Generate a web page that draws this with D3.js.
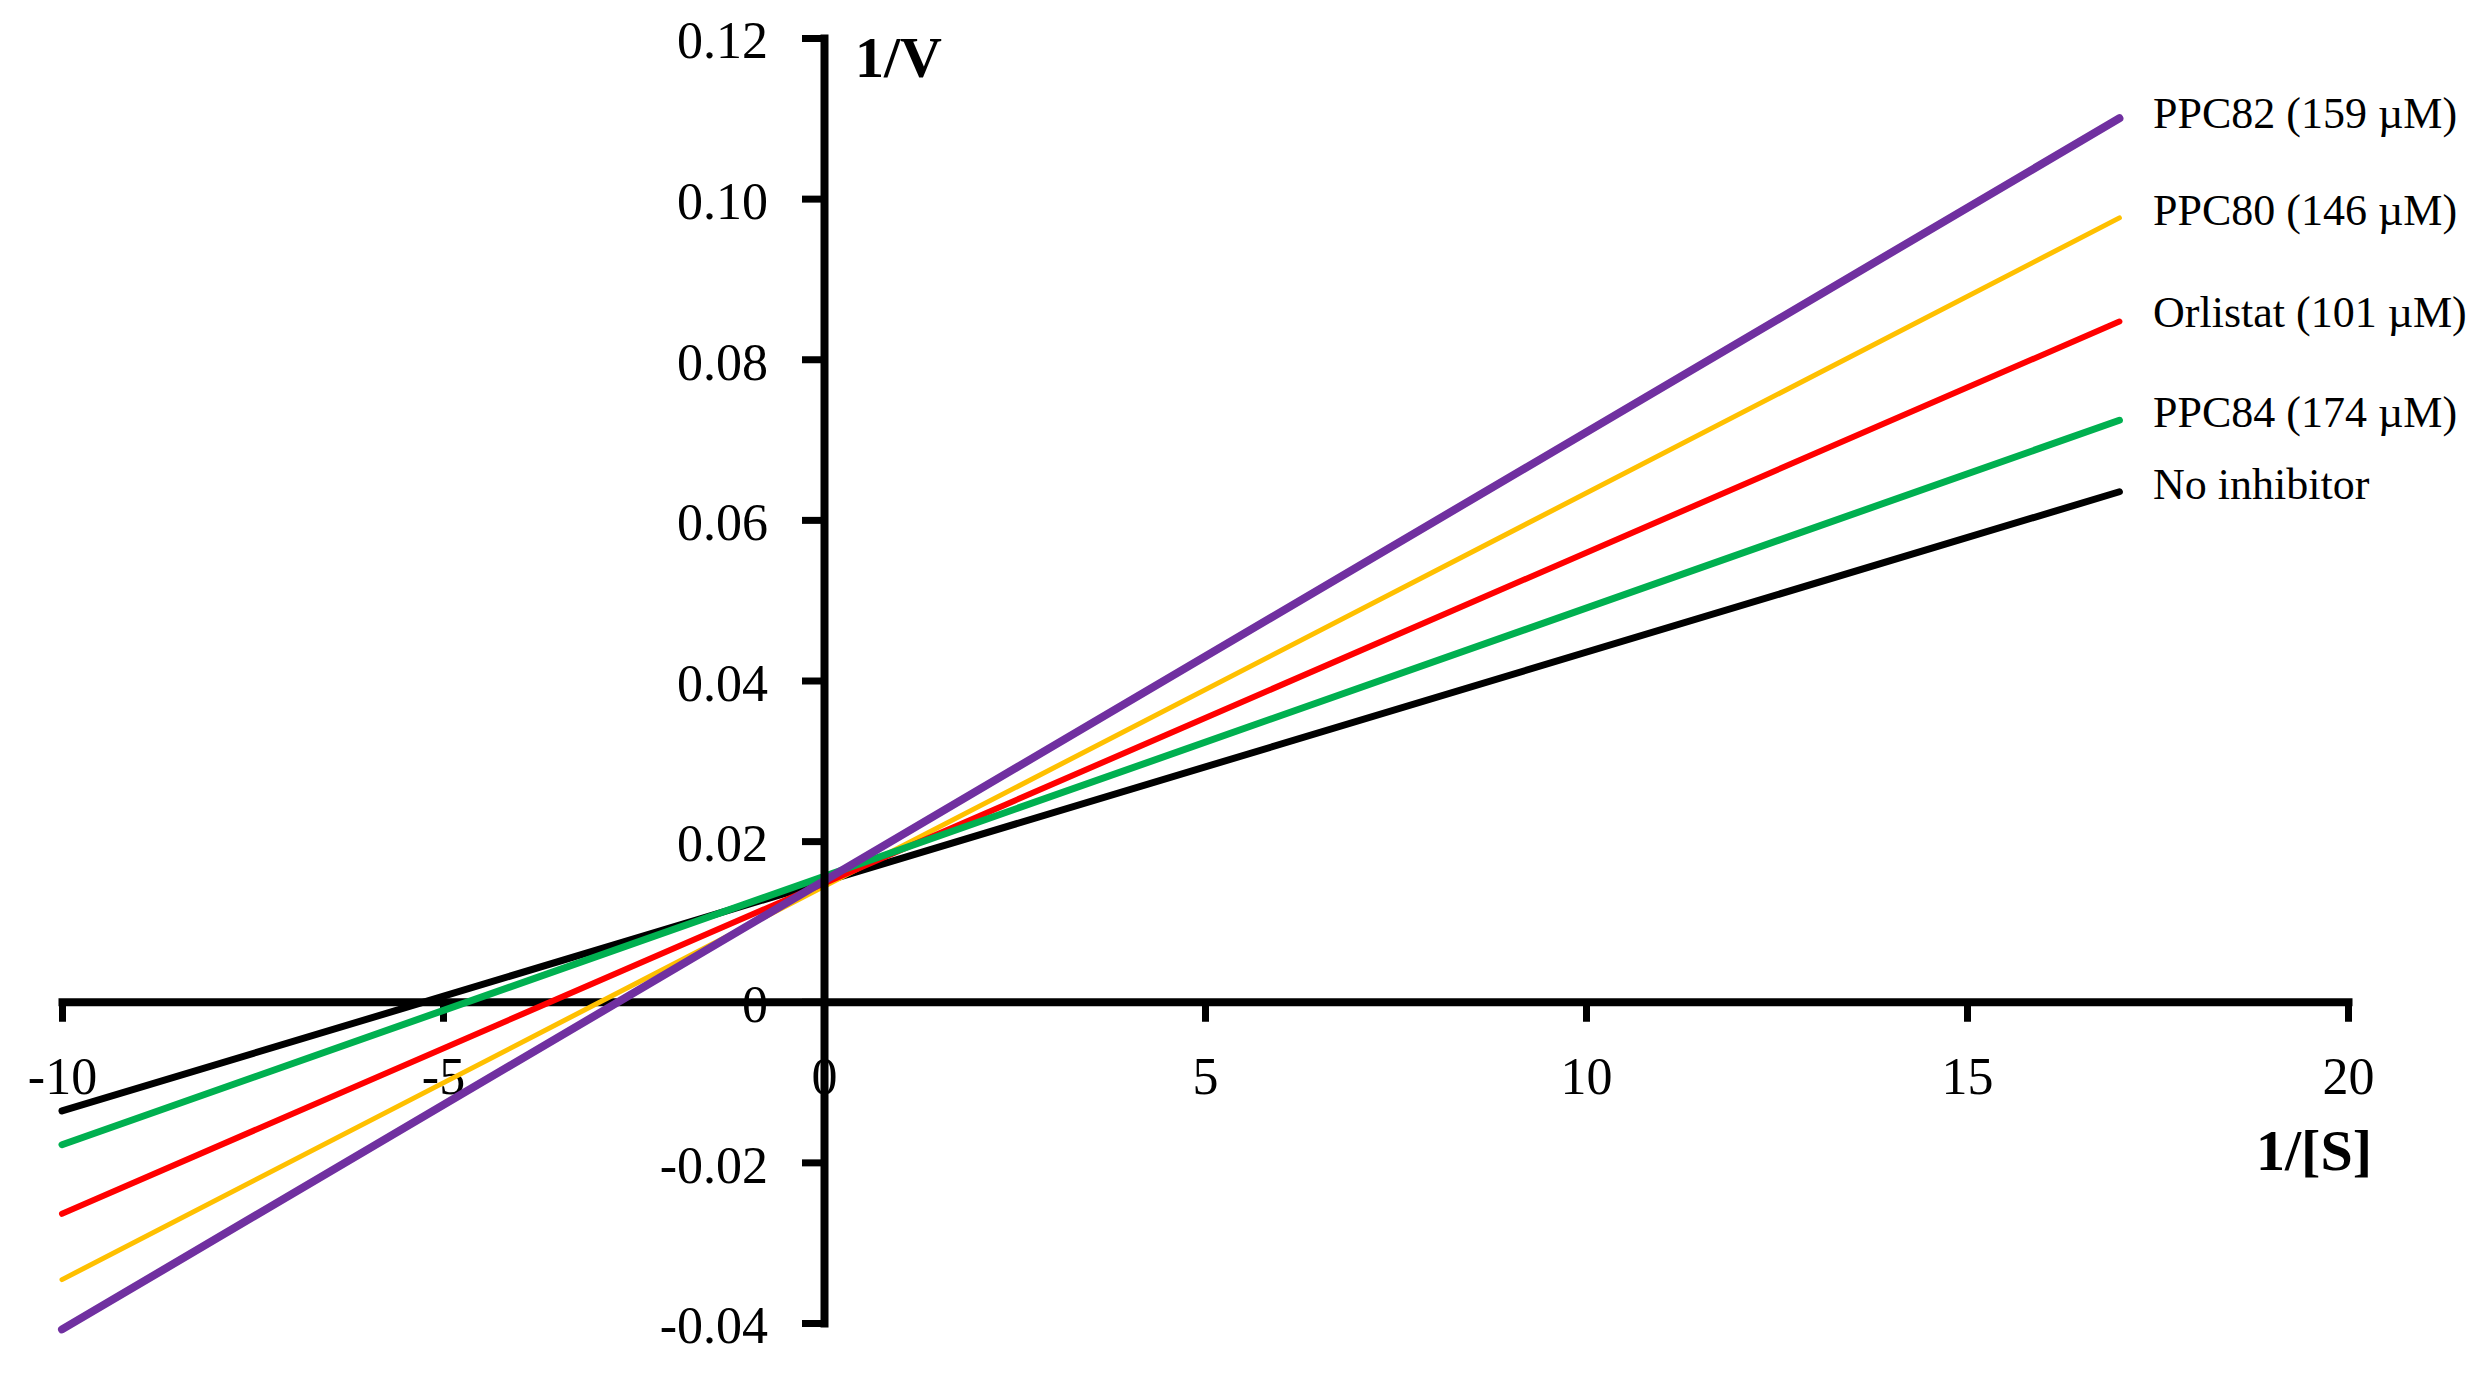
<!DOCTYPE html>
<html>
<head>
<meta charset="utf-8">
<script src="https://cdn.jsdelivr.net/npm/d3@7"></script>
<style>
  html, body { margin: 0; padding: 0; background: #ffffff; }
  svg { display: block; }
</style>
</head>
<body>
<svg id="chart" width="2491" height="1390"></svg>
<script>
// ---- data ----
const xPoints = [-10, 17];
const seriesNames = ["No inhibitor", "PPC80 (146 \u00b5M)", "Orlistat (101 \u00b5M)", "PPC84 (174 \u00b5M)", "PPC82 (159 \u00b5M)"];
const noInhibitor = [-0.0136, 0.0635];
const ppc84 = [-0.0178, 0.0724];
const orlistat = [-0.0264, 0.0847];
const ppc80 = [-0.0346, 0.0976];
const ppc82 = [-0.0408, 0.1100];
const seriesValues = [noInhibitor, ppc80, orlistat, ppc84, ppc82];
const seriesColors = ["#000000", "#FFC000", "#FF0000", "#00B050", "#7030A0"];
const seriesWidths = [7, 5, 6, 7, 8];
const xTicks = [-10, -5, 0, 5, 10, 15, 20];
const xTickLabels = ["-10", "-5", "0", "5", "10", "15", "20"];
const yTicks = [-0.04, -0.02, 0, 0.02, 0.04, 0.06, 0.08, 0.10, 0.12];
const yTickLabels = ["-0.04", "-0.02", "0", "0.02", "0.04", "0.06", "0.08", "0.10", "0.12"];
const legendOrder = ["PPC82 (159 \u00b5M)", "PPC80 (146 \u00b5M)", "Orlistat (101 \u00b5M)", "PPC84 (174 \u00b5M)", "No inhibitor"];
const legendBaselines = [128, 225, 327, 427, 499];

// ---- layout ----
const svg = d3.select("#chart");
const font = "'Liberation Serif', 'Times New Roman', serif";
const x = d3.scaleLinear().domain([-10, 20]).range([62, 2348]);
const y = d3.scaleLinear().domain([-0.04, 0.12]).range([1323, 38]);

// x axis (at y = 0)
const xAxis = d3.axisBottom(x).tickValues(xTicks).tickFormat((d, i) => xTickLabels[i])
  .tickSize(20).tickSizeOuter(0).tickPadding(35);
const gx = svg.append("g").attr("transform", `translate(0,${y(0)})`).call(xAxis);
gx.select(".domain").attr("stroke", "#000").attr("stroke-width", 8).attr("stroke-linecap", "square");
gx.selectAll(".tick line").attr("stroke", "#000").attr("stroke-width", 7);
gx.selectAll(".tick text").attr("font-family", font).attr("font-size", 52).attr("fill", "#000");

// lines
const line = d3.line().x((d, i) => x(xPoints[i])).y(d => y(d));
const drawOrder = [0, 1, 2, 3, 4];
svg.append("g").selectAll("path").data(drawOrder).join("path")
  .attr("d", i => line(seriesValues[i]))
  .attr("fill", "none")
  .attr("stroke", i => seriesColors[i])
  .attr("stroke-width", i => seriesWidths[i])
  .attr("stroke-linecap", "round");

// y axis (at x = 0)
const yAxis = d3.axisLeft(y).tickValues(yTicks)
  .tickFormat((d, i) => yTickLabels[i])
  .tickSize(22).tickSizeOuter(0).tickPadding(34);
const gy = svg.append("g").attr("transform", `translate(${x(0)},0)`).call(yAxis);
gy.select(".domain").attr("stroke", "#000").attr("stroke-width", 8).attr("stroke-linecap", "square");
gy.selectAll(".tick line").attr("stroke", "#000").attr("stroke-width", 7);
gy.selectAll(".tick text").attr("font-family", font).attr("font-size", 52).attr("fill", "#000").attr("dy", "0.38em");

// axis titles
svg.append("text").attr("x", 855).attr("y", 77)
  .attr("font-family", font).attr("font-size", 58).attr("font-weight", "bold").text("1/V");
svg.append("text").attr("x", 2372).attr("y", 1170).attr("text-anchor", "end")
  .attr("font-family", font).attr("font-size", 58).attr("font-weight", "bold").text("1/[S]");

// series labels
svg.append("g").selectAll("text").data(legendOrder).join("text")
  .attr("x", 2153).attr("y", (d, i) => legendBaselines[i])
  .attr("font-family", font).attr("font-size", 44).attr("fill", "#000")
  .text(d => d);
</script>
</body>
</html>
